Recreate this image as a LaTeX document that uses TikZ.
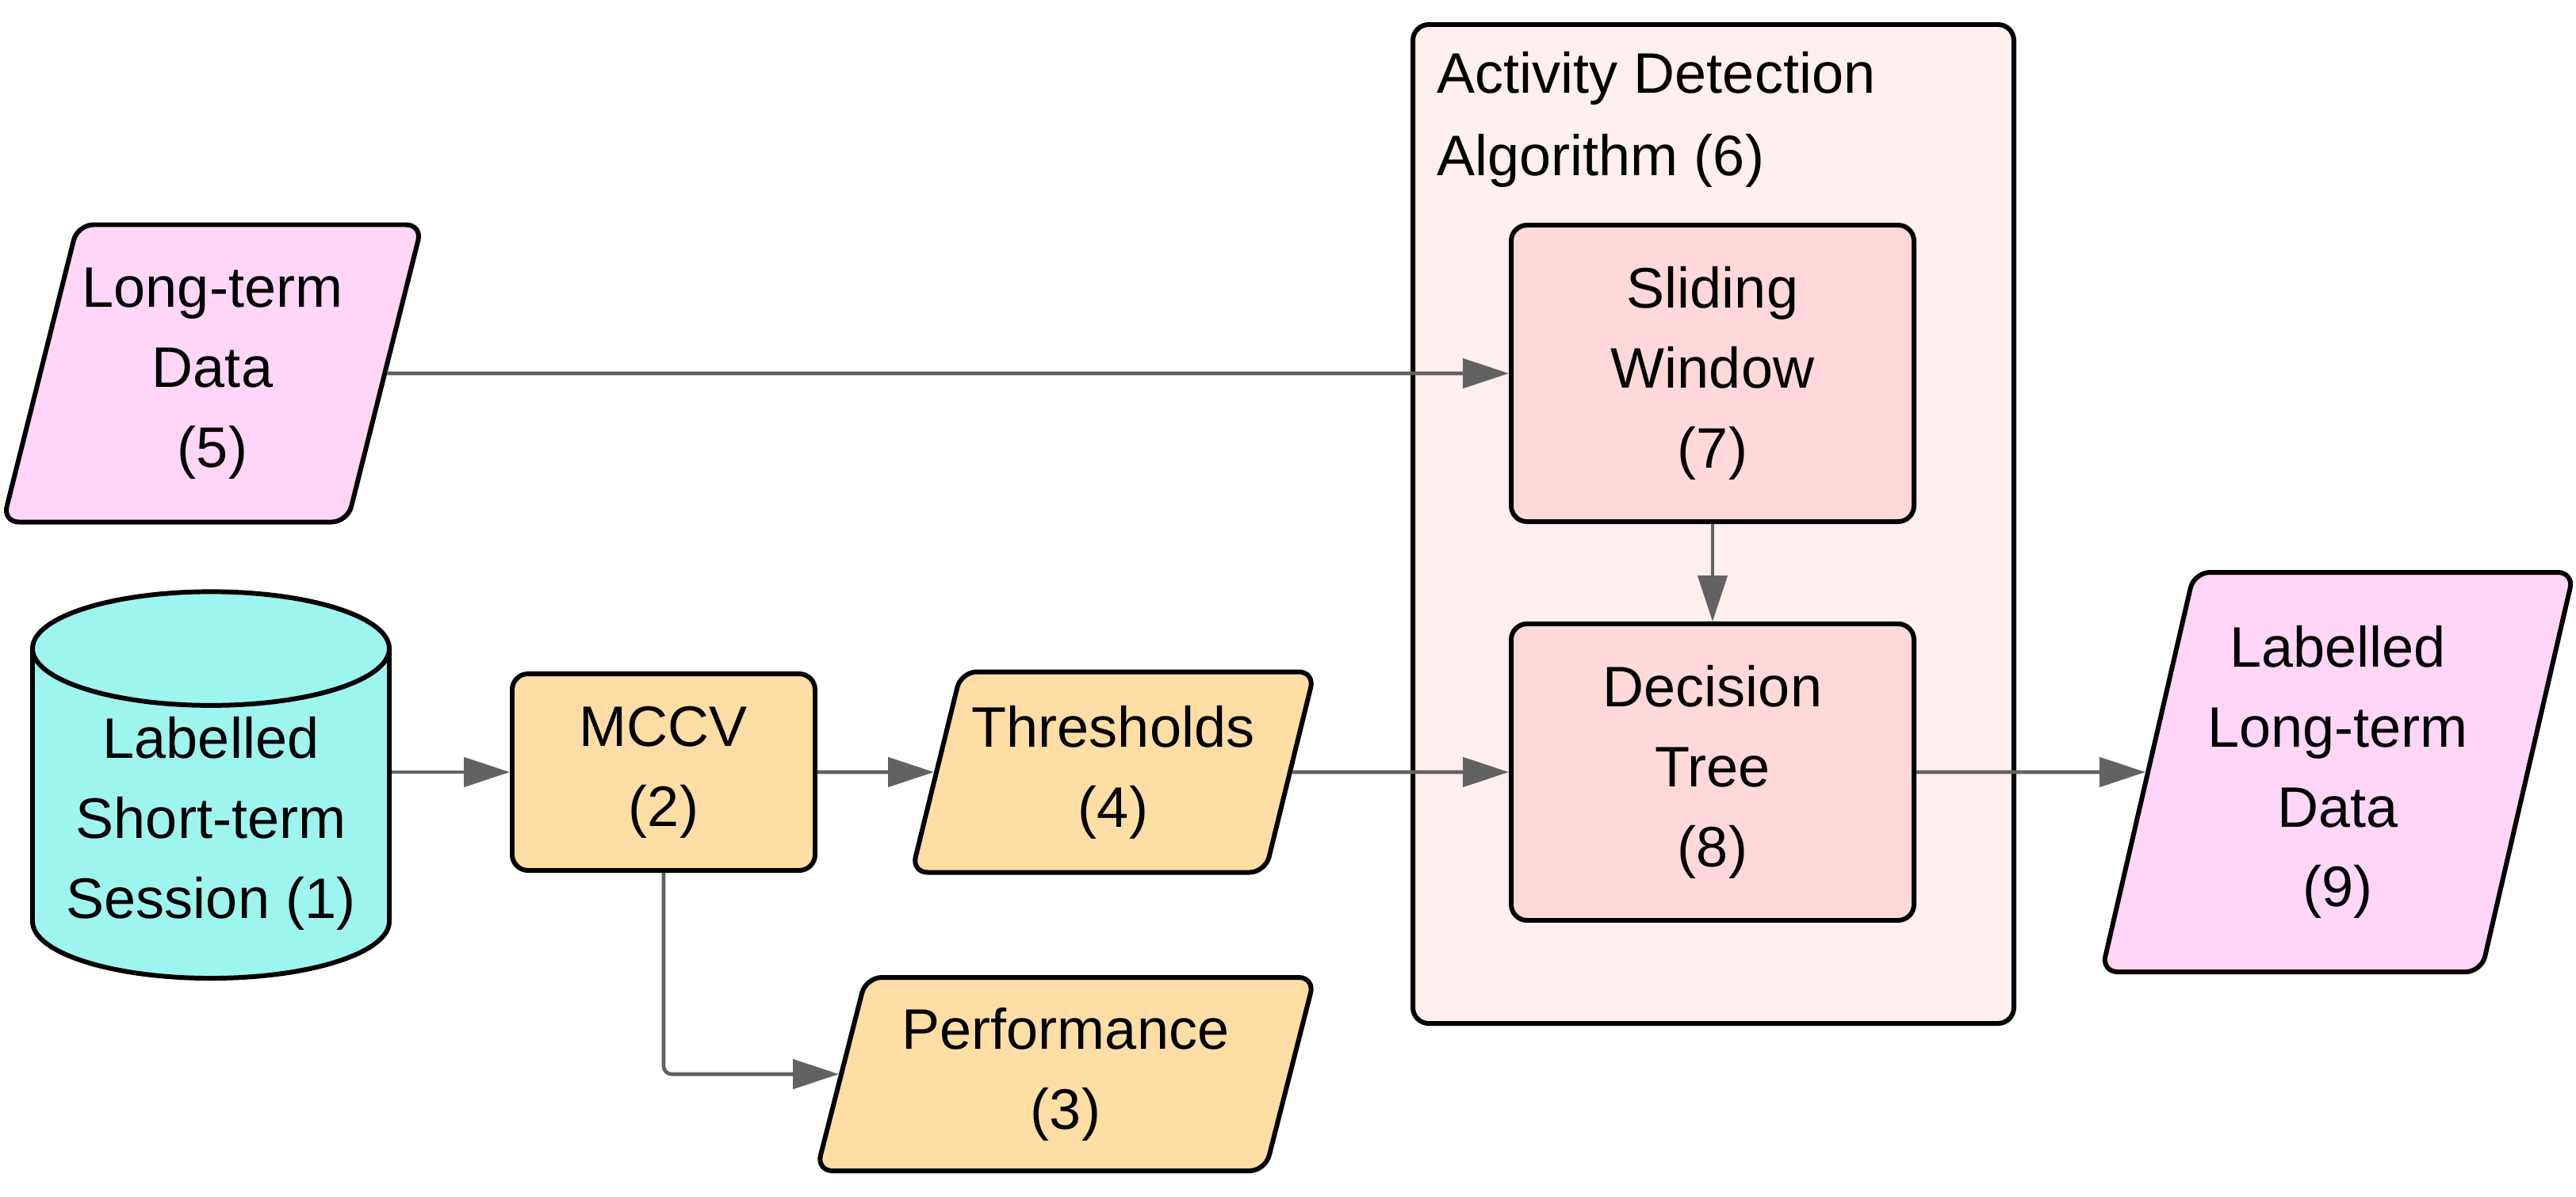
\documentclass[tikz,border=0pt]{standalone}
\usepackage{fontspec}
\setmainfont{Liberation Sans}
\usetikzlibrary{arrows.meta, positioning, shapes.geometric}
\definecolor{pink1}{HTML}{FFD6F5}
\definecolor{cyan1}{HTML}{9EF5EE}
\definecolor{orange1}{HTML}{FFDEA6}
\definecolor{rose1}{HTML}{FFEFEF}
\definecolor{red1}{HTML}{FFD9DA}
\definecolor{gray1}{HTML}{626262}
\newcommand{\flowfont}{\fontsize{20.5pt}{28.7pt}\selectfont}

\begin{document}
\begin{tikzpicture}[
    proc/.style={
      rectangle, rounded corners=2mm, draw=black, line width=1.7pt,
      fill=#1, font=\flowfont, align=center
    },
    iobox/.style={
      trapezium, trapezium left angle=72, trapezium right angle=108,
      trapezium stretches body=true, rounded corners=2mm, draw=black,
      line width=1.7pt, fill=#1, font=\flowfont, align=center
    },
    dbase/.style={
      cylinder, shape border rotate=90, aspect=0.37, draw=black,
      line width=1.7pt, fill=#1, font=\flowfont, align=center
    },
    cluster/.style={
      rectangle, rounded corners=2mm, draw=black, line width=1.7pt, fill=#1
    },
    arr/.style={-{Triangle[length=5.8mm, width=3.7mm]}, line width=1.3pt, gray1},
  ]
  \useasboundingbox (0, 0) rectangle (32.49, -15.09);

  % Algorithm container
  \node[cluster=rose1, minimum width=7.58cm, minimum height=12.60cm] (alg) at (21.61, -6.61) {};
  \node[font=\flowfont, align=left, inner sep=0pt, below right=0.37cm and 0.33cm of alg.north west] (algtitle) {Activity Detection\\[0.3mm]Algorithm (6)};

  % Inputs
  \node[iobox=pink1, inner xsep=0.06cm, minimum width=4.93cm, minimum height=3.75cm] (ltd) at (2.68, -4.71) {Long-term\\Data\\(5)};
  \node[dbase=cyan1, minimum width=4.50cm, minimum height=4.77cm] (sess) at (2.66, -10.39) {Labelled\\Short-term\\Session (1)};

  % Processing
  \node[proc=orange1, minimum width=3.82cm, minimum height=2.48cm] (mccv) at (8.37, -9.74) {MCCV\\(2)};
  \node[iobox=orange1, minimum width=5.08cm, minimum height=2.53cm] (thr) at (14.04, -9.74) {Thresholds\\(4)};
  \node[iobox=orange1, minimum width=6.28cm, minimum height=2.44cm] (perf) at (13.44, -13.55) {Performance\\(3)};

  % Inside the algorithm
  \node[proc=red1, minimum width=5.08cm, minimum height=3.74cm] (sw) at (21.60, -4.71) {Sliding\\Window\\(7)};
  \node[proc=red1, minimum width=5.08cm, minimum height=3.74cm, below=1.23cm of sw] (dt) {Decision\\Tree\\(8)};

  % Output
  \node[iobox=pink1, trapezium left angle=73.5, trapezium right angle=106.5, inner xsep=0.17cm, minimum width=5.59cm, minimum height=5.04cm] (lltd) at (29.485, -9.74) {Labelled\\Long-term\\Data\\(9)};

  % Arrows
  \draw[arr] (sess.east |- mccv.west) -- (mccv.west);
  \draw[arr] (mccv) -- (thr);
  \draw[arr, rounded corners=1mm] (mccv.south) |- (perf);
  \draw[arr] (ltd) -- (sw);
  \draw[arr] (thr) -- (dt);
  \draw[arr] (sw) -- (dt);
  \draw[arr] (dt) -- (lltd);

\end{tikzpicture}
\end{document}
